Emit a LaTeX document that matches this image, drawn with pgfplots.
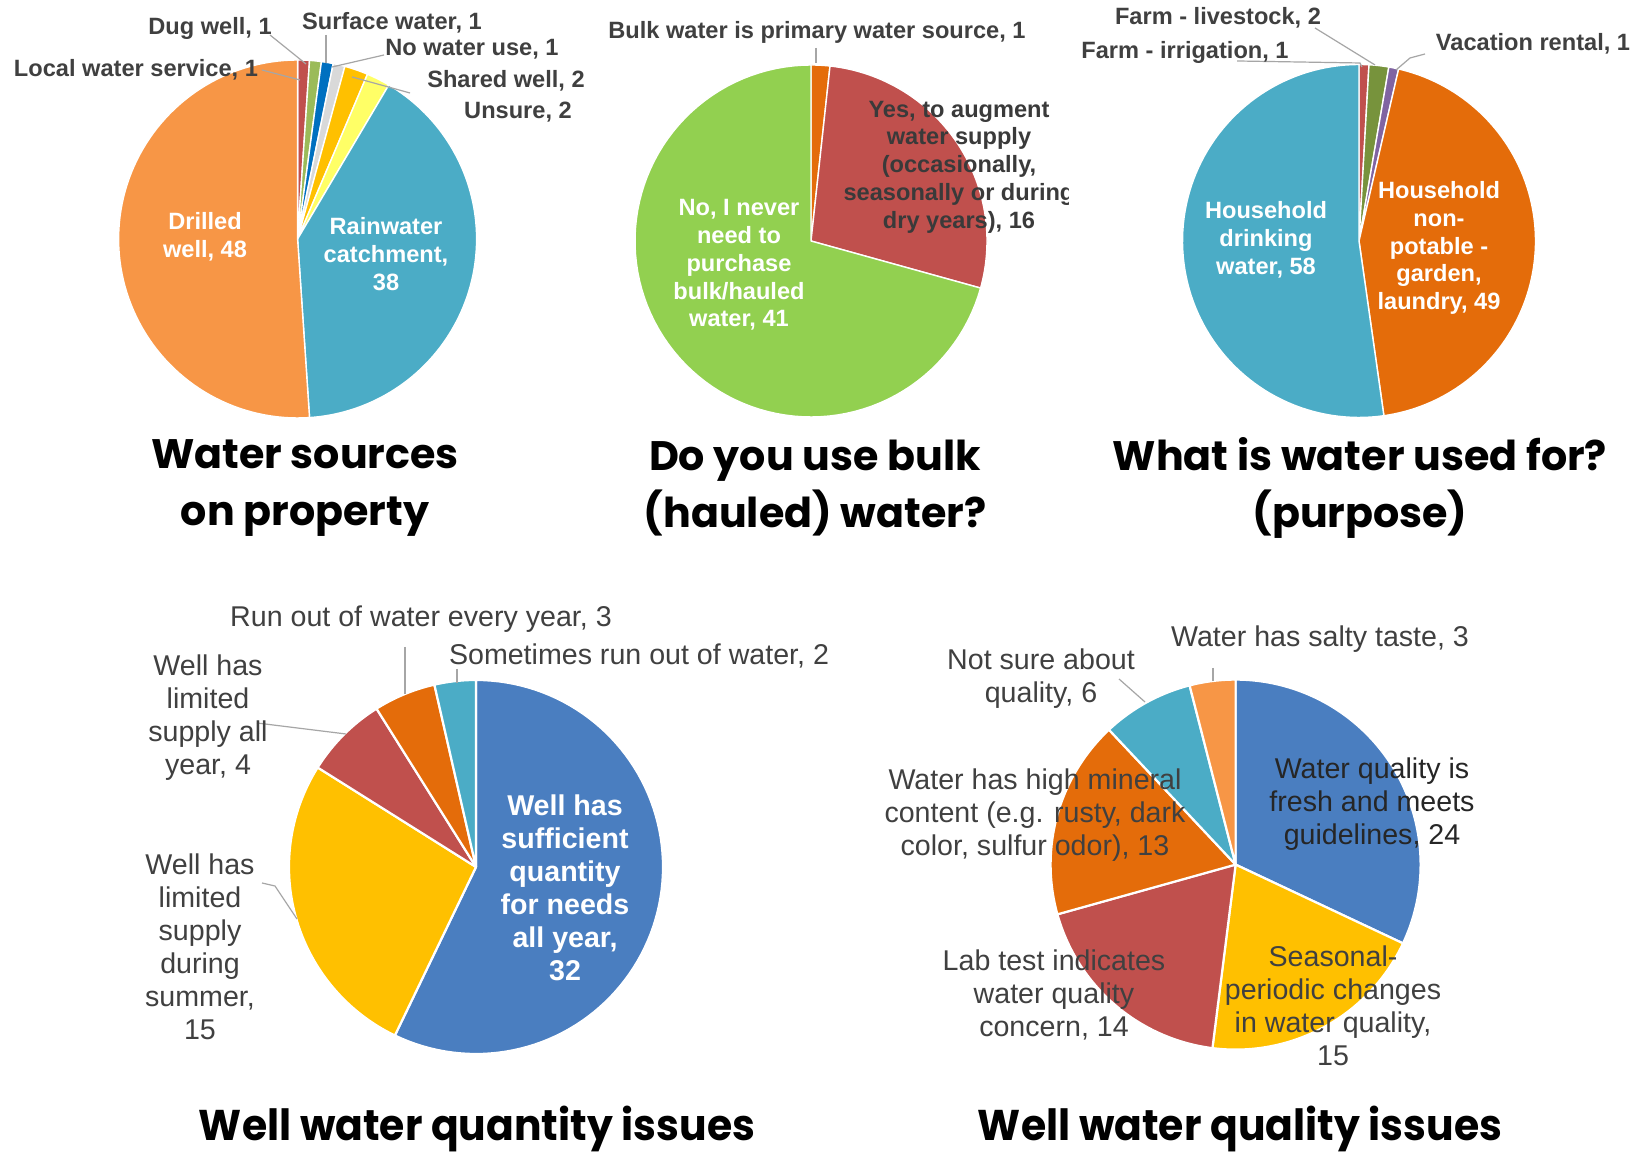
\documentclass[border=0pt]{standalone}
\usepackage{graphicx}
\usepackage{fontspec}
\setmainfont{Liberation Sans}
\newfontfamily\poppins{Poppins}
\usepackage{pgfplots}
\pgfplotsset{compat=1.18}
\usepackage{pgfplotstable}

% slice colours
\definecolor{srcLocal}{HTML}{C0504D}
\definecolor{srcDug}{HTML}{9BBB59}
\definecolor{srcSurface}{HTML}{0070C0}
\definecolor{srcNone}{HTML}{D9D9D9}
\definecolor{srcShared}{HTML}{FFC000}
\definecolor{srcUnsure}{HTML}{FFFF66}
\definecolor{srcRain}{HTML}{4BACC6}
\definecolor{srcDrilled}{HTML}{F79646}
\definecolor{bulkPrimary}{HTML}{E46C0A}
\definecolor{bulkYes}{HTML}{C0504D}
\definecolor{bulkNo}{HTML}{92D050}
\definecolor{useIrr}{HTML}{C0504D}
\definecolor{useLive}{HTML}{77933C}
\definecolor{useVac}{HTML}{8064A2}
\definecolor{useNonpot}{HTML}{E46C0A}
\definecolor{useDrink}{HTML}{4BACC6}
\definecolor{wellBlue}{HTML}{4A7EC0}
\definecolor{wellGold}{HTML}{FFC000}
\definecolor{wellRed}{HTML}{C0504D}
\definecolor{wellOrange}{HTML}{E46C0A}
\definecolor{wellTeal}{HTML}{4BACC6}
\definecolor{wellLight}{HTML}{F79646}
\definecolor{labelgray}{HTML}{404040}
\definecolor{leader}{HTML}{A6A6A6}

% counts, clockwise from 12 o'clock
\pgfplotstableread{
value color
1 srcLocal
1 srcDug
1 srcSurface
1 srcNone
2 srcShared
2 srcUnsure
38 srcRain
48 srcDrilled
}\srcdata

\pgfplotstableread{
value color
1 bulkPrimary
16 bulkYes
41 bulkNo
}\bulkdata

\pgfplotstableread{
value color
1 useIrr
2 useLive
1 useVac
49 useNonpot
58 useDrink
}\usedata

\pgfplotstableread{
value color
32 wellBlue
15 wellGold
4 wellRed
3 wellOrange
2 wellTeal
}\qtydata

\pgfplotstableread{
value color
24 wellBlue
15 wellGold
14 wellRed
13 wellOrange
6 wellTeal
3 wellLight
}\qualdata

% draw one pie from a table: #1 table, #2 white gap width
\newcommand\drawpie[2]{%
  \pgfplotstablegetrowsof{#1}%
  \pgfmathtruncatemacro\lastrow{\pgfplotsretval-1}%
  \def\pietot{0}%
  \pgfplotsforeachungrouped \i in {0,...,\lastrow}{%
    \pgfplotstablegetelem{\i}{value}\of#1%
    \pgfmathsetmacro\pietot{\pietot+\pgfplotsretval}%
  }%
  \def\piecum{0}%
  \pgfplotsforeachungrouped \i in {0,...,\lastrow}{%
    \pgfplotstablegetelem{\i}{value}\of#1\let\pval\pgfplotsretval
    \pgfplotstablegetelem{\i}{color}\of#1\let\pcol\pgfplotsretval
    \pgfmathsetmacro\angA{90-(\piecum+\pval)/\pietot*360}%
    \pgfmathsetmacro\angB{90-\piecum/\pietot*360}%
    \edef\temp{\noexpand\addplot[fill=\pcol, draw=white, line width=#2, line join=round,
      domain=\angA:\angB, samples=90] ({cos(x)},{sin(x)}) -- (axis cs:0,0) -- cycle;}%
    \temp
    \pgfmathsetmacro\piecum{\piecum+\pval}%
  }%
}

\pgfplotsset{piestyle/.style={anchor=center, hide axis, scale only axis,
  xmin=-1, xmax=1, ymin=-1, ymax=1, clip=false}}

\tikzset{
  top/.style={inner sep=0pt, align=center, text=labelgray,
    font=\bfseries\fontsize{11.8}{13.9}\selectfont},
  topw/.style={top, text=white},
  bot/.style={inner sep=0pt, align=center, text=labelgray,
    font=\fontsize{14.3}{16.5}\selectfont},
  title/.style={inner sep=0pt, align=center,
    font=\poppins\bfseries\fontsize{20.6}{28.5}\selectfont},
  lead/.style={draw=leader, line width=0.6pt},
}

\begin{document}
\begin{tikzpicture}
\fill[white] (0,0) rectangle (818.5pt,577.5pt);
\useasboundingbox (0,0) rectangle (818.5pt,577.5pt);

\begin{axis}[piestyle, at={(148.8pt,458pt)}, width=179pt, height=179pt]
\drawpie{\srcdata}{0.7pt}
\end{axis}
\begin{axis}[piestyle, at={(405.5pt,457pt)}, width=176pt, height=176pt]
\drawpie{\bulkdata}{0.7pt}
\end{axis}
\begin{axis}[piestyle, at={(679.5pt,457pt)}, width=176.5pt, height=176.5pt]
\drawpie{\usedata}{0.7pt}
\end{axis}
\begin{axis}[piestyle, at={(238pt,144pt)}, width=187pt, height=187pt]
\drawpie{\qtydata}{1.1pt}
\end{axis}
\begin{axis}[piestyle, at={(617.8pt,145.2pt)}, width=185pt, height=185pt]
\drawpie{\qualdata}{1.1pt}
\end{axis}

% --- water sources
\draw[lead] (131pt,542.5pt) -- (150pt,537.5pt);
\draw[lead] (135pt,560pt) -- (153pt,545.5pt);
\draw[lead] (163pt,560pt) -- (163pt,546pt);
\draw[lead] (192pt,550pt) -- (166pt,544pt);
\draw[lead] (205pt,531pt) -- (176pt,539pt);
\node[top] at (105pt,563.5pt) {Dug well, 1};
\node[top] at (196pt,566pt) {Surface water, 1};
\node[top] at (236pt,553pt) {No water use, 1};
\node[top] at (253pt,537pt) {Shared well, 2};
\node[top] at (259pt,521.5pt) {Unsure, 2};
\node[top] at (68pt,542.5pt) {Local water service, 1};
\node[topw] at (102.5pt,459pt) {Drilled\\well, 48};
\node[topw] at (193pt,450.5pt) {Rainwater\\catchment,\\38};

% --- bulk water
\draw[lead] (408pt,553.5pt) -- (408pt,546pt);
\node[top] at (408.5pt,561.5pt) {Bulk water is primary water source, 1};
\begin{scope}
\clip (0,0) rectangle (534pt,577.5pt);
\node[top, text=labelgray!90!black] at (479.5pt,494pt)
  {Yes, to augment\\water supply\\(occasionally,\\seasonally or during\\dry years), 16};
\end{scope}
\node[topw] at (369.5pt,445pt) {No, I never\\need to\\purchase\\bulk/hauled\\water, 41};

% --- purpose
\draw[lead] (657.5pt,563.5pt) -- (687.5pt,545pt);
\draw[lead] (618.5pt,547pt) -- (680pt,546pt) -- (681pt,544pt);
\draw[lead] (712.5pt,550.5pt) -- (705pt,548.5pt) -- (698pt,542.5pt);
\node[top] at (609pt,568.5pt) {Farm - livestock, 2};
\node[top] at (592.5pt,551.5pt) {Farm - irrigation, 1};
\node[top] at (766.5pt,555.5pt) {Vacation rental, 1};
\node[topw] at (633pt,457.5pt) {Household\\drinking\\water, 58};
\node[topw] at (719.5pt,453.5pt) {Household\\non-\\potable -\\garden,\\laundry, 49};

% --- top titles
\node[title] at (152.5pt,333.5pt) {Water sources\\on property};
\node[title] at (407.5pt,333.5pt) {Do you use bulk\\(hauled) water?};
\node[title] at (680pt,333.5pt) {What is water used for?\\(purpose)};

% --- quantity
\draw[lead] (202.5pt,254pt) -- (202.5pt,230.5pt);
\draw[lead] (228.5pt,243pt) -- (228.5pt,236pt);
\draw[lead] (128.5pt,216pt) -- (173pt,210.5pt);
\draw[lead] (131pt,136pt) -- (137.5pt,134.5pt) -- (148.5pt,118pt);
\node[bot] at (210.5pt,268pt) {Run out of water every year, 3};
\node[bot] at (319.5pt,249.5pt) {Sometimes run out of water, 2};
\node[bot] at (104pt,218.5pt) {Well has\\limited\\supply all\\year, 4};
\node[bot] at (100pt,104pt) {Well has\\limited\\supply\\during\\summer,\\15};
\node[bot, text=white, font=\bfseries\fontsize{14.3}{16.5}\selectfont] at (282.5pt,133.5pt)
  {Well has\\sufficient\\quantity\\for needs\\all year,\\32};

% --- quality
\draw[lead] (606.5pt,243.5pt) -- (606.5pt,237pt);
\draw[lead] (559.5pt,238pt) -- (572.5pt,226.5pt);
\node[bot] at (660pt,258pt) {Water has salty taste, 3};
\node[bot] at (520.5pt,238pt) {Not sure about\\quality, 6};
\node[bot] at (517.5pt,170pt) {Water has high mineral\\content (e.g. rusty, dark\\color, sulfur odor), 13};
\node[bot, text=black!85] at (686pt,175.5pt) {Water quality is\\fresh and meets\\guidelines, 24};
\node[bot] at (666.5pt,74.5pt) {Seasonal-\\periodic changes\\in water quality,\\15};
\node[bot] at (527pt,80pt) {Lab test indicates\\water quality\\concern, 14};

% --- bottom titles
\node[inner sep=0pt, anchor=base] at (238.5pt,7pt)
  {\resizebox{278pt}{\height}{\poppins\bfseries\fontsize{21.5}{26}\selectfont Well water quantity issues}};
\node[inner sep=0pt, anchor=base] at (620pt,7pt)
  {\resizebox{262pt}{\height}{\poppins\bfseries\fontsize{21.5}{26}\selectfont Well water quality issues}};
\end{tikzpicture}
\end{document}
